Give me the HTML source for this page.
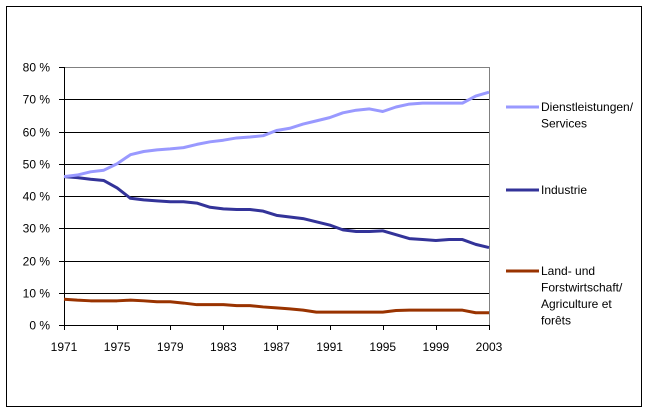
<!DOCTYPE html>
<html><head><meta charset="utf-8"><style>
html,body{margin:0;padding:0;background:#fff;}
svg{display:block;font-family:"Liberation Sans",Arial,sans-serif;}
</style></head><body>
<svg id="chart" width="649" height="413" viewBox="0 0 649 413">
<rect x="6.5" y="6.5" width="635" height="400" fill="#fff" stroke="#000" stroke-width="1"/>
<g id="grid"></g>
<g id="axes"></g>
<g id="series"></g>
<g id="legend"></g>
</svg>
<script>
const years = [];
for (let y = 1971; y <= 2003; y++) years.push(y);
const services = [46,46.5,47.5,48,50,52.8,53.8,54.3,54.6,55,56,56.8,57.3,58,58.3,58.7,60.3,61,62.3,63.3,64.3,65.8,66.6,67,66.2,67.6,68.5,68.8,68.8,68.8,68.8,71,72.2];
const industry = [46,45.7,45.2,44.8,42.5,39.3,38.8,38.5,38.2,38.2,37.8,36.5,36,35.8,35.8,35.3,34,33.5,33,32,31,29.5,29,29,29.2,28,26.8,26.5,26.2,26.5,26.5,25,24];
const agriculture = [8,7.7,7.5,7.5,7.5,7.7,7.5,7.2,7.2,6.8,6.3,6.3,6.3,6,6,5.6,5.3,5,4.6,4,4,4,4,4,4,4.5,4.6,4.6,4.6,4.6,4.6,3.8,3.8];
const yTicks = [0,10,20,30,40,50,60,70,80];
const xTickLabels = [1971,1975,1979,1983,1987,1991,1995,1999,2003];

const L=64,R=489,T=67,B=325;
const xs = y => L + (y-1971)*(R-L)/(2003-1971);
const ys = v => B - v*(B-T)/80;
const NS='http://www.w3.org/2000/svg';
function mk(tag, attrs, parent){const e=document.createElementNS(NS,tag);for(const k in attrs)e.setAttribute(k,attrs[k]);parent.appendChild(e);return e;}
const grid=document.getElementById('grid'),axes=document.getElementById('axes'),series=document.getElementById('series'),legend=document.getElementById('legend');

yTicks.forEach(v=>{
  const y=Math.round(ys(v))+0.5;
  if(v>0){
    const g=mk('line',{x1:L,x2:R,y1:y,y2:y,stroke:v===80?'#808080':'#000','stroke-width':1},grid);
    
    
  }
  const t=mk('line',{x1:L-5,x2:L,y1:y,y2:y,stroke:'#000'},axes);
  
  
  const tx=mk('text',{x:50,y:y+4,'text-anchor':'end','font-size':12,fill:'#000'},axes);
  tx.textContent=v+' %';
  
  
});
const rb=mk('line',{x1:R+0.5,x2:R+0.5,y1:T,y2:B,stroke:'#808080'},grid);


const ya=mk('line',{x1:L+0.5,x2:L+0.5,y1:T,y2:B+1,stroke:'#000'},axes);


const xa=mk('line',{x1:L,x2:R+1,y1:B+0.5,y2:B+0.5,stroke:'#000'},axes);


xTickLabels.forEach(yr=>{
  const x=Math.round(xs(yr))+0.5;
  const t=mk('line',{x1:x,x2:x,y1:B,y2:B+5,stroke:'#000'},axes);
  
  
  const tx=mk('text',{x:xs(yr),y:B+26,'text-anchor':'middle','font-size':12,fill:'#000'},axes);
  tx.textContent=yr;
  
  
});
function line(vals,color,name){
  const p=mk('polyline',{points:vals.map((v,i)=>xs(years[i])+','+ys(v)).join(' '),fill:'none',stroke:color,'stroke-width':3,'stroke-linejoin':'round'},series);
  
  
}
line(agriculture,'#993300','agriculture-line');
line(industry,'#333399','industry-line');
line(services,'#9999ff','services-line');

const leg=[
  {c:'#9999ff',y:107,lines:['Dienstleistungen/','Services'],n:'legend-services'},
  {c:'#333399',y:190,lines:['Industrie'],n:'legend-industry'},
  {c:'#993300',y:271,lines:['Land- und','Forstwirtschaft/','Agriculture et','forêts'],n:'legend-agriculture'}
];
leg.forEach(e=>{
  const g=mk('g',{},legend);
  
  
  mk('line',{x1:506,x2:539,y1:e.y,y2:e.y,stroke:e.c,'stroke-width':3},g);
  e.lines.forEach((s,i)=>{
    const t=mk('text',{x:541,y:e.y+4+i*16.5,'font-size':12,fill:'#000'},g);
    t.textContent=s;
  });
});
</script>
</body></html>
